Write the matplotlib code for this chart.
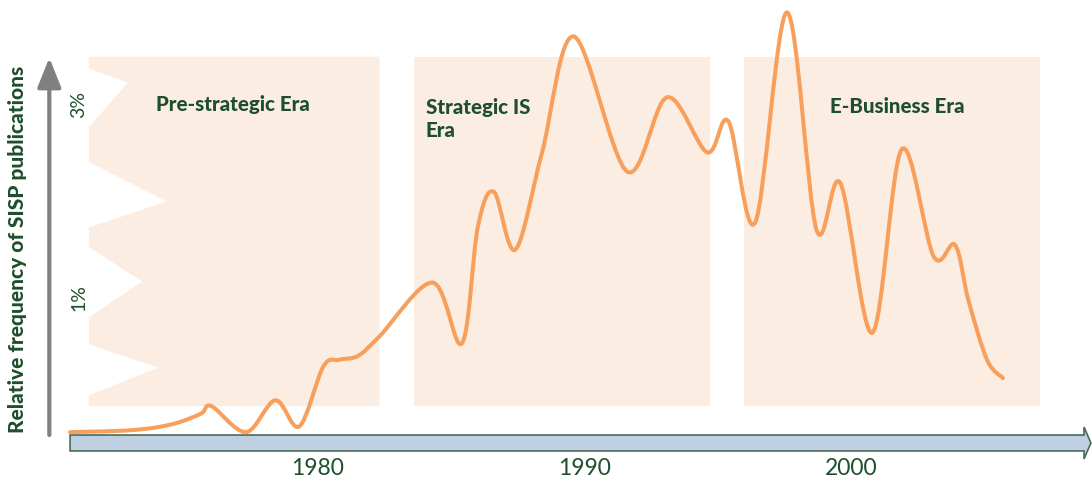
import numpy as np
import matplotlib.pyplot as plt
from matplotlib.path import Path
from matplotlib.patches import PathPatch, Polygon, Rectangle

# curve (year, % of publications)
years = [1970.7, 1973.0, 1974.5, 1975.6, 1976.0, 1977.3, 1978.4, 1979.3,
         1980.2, 1980.8, 1981.5, 1982.3, 1984.3, 1985.4, 1986.0, 1986.6,
         1987.4, 1988.4, 1989.6, 1991.6, 1993.1, 1994.6, 1995.4,
         1996.4, 1997.6, 1998.7, 1999.6, 2000.8, 2001.9, 2003.1, 2003.9,
         2004.4, 2005.1, 2005.7]
freq = [-0.39, -0.37, -0.31, -0.20, -0.12, -0.39, -0.06, -0.33,
        0.29, 0.36, 0.40, 0.60, 1.16, 0.53, 1.74, 2.10,
        1.50, 2.50, 3.71, 2.31, 3.08, 2.51, 2.83,
        1.78, 3.96, 1.71, 2.19, 0.64, 2.54, 1.43, 1.55,
        0.98, 0.36, 0.17]

eras = ['Pre-strategic Era', 'Strategic IS\nEra', 'E-Business Era']
era_start = [1971.4, 1983.6, 1996.0]
era_end = [1982.3, 1994.7, 2007.1]

x_ticks = [1980, 1990, 2000]
y_ticks = [1, 3]

orange = '#F79F5B'
peach = '#FCEDE3'
green = '#1E4F2C'

plt.rcParams['font.family'] = ['Lato', 'DejaVu Sans']

fig = plt.figure(figsize=(10.92, 4.88), dpi=100)
ax = fig.add_axes([0, 0, 1, 1])
ax.set_xlim(1968.07, 2009.04)
ax.set_ylim(-0.969, 4.088)
ax.axis('off')

# era boxes (first one has a jagged left edge)
top, bot = 3.50, -0.12
x0, x1 = era_start[0], era_end[0]
jag = [(x0, top), (x1, top), (x1, bot), (x0, bot),
       (x0, -0.01), (1974.0, 0.28), (x0, 0.52), (x0, 0.80), (1973.4, 1.17),
       (x0, 1.53), (x0, 1.73), (1974.33, 2.0), (x0, 2.41), (x0, 2.77),
       (1972.87, 3.23), (x0, 3.38)]
ax.add_patch(Polygon(jag, closed=True, facecolor=peach, edgecolor='none'))
for s, e in zip(era_start[1:], era_end[1:]):
    ax.add_patch(Rectangle((s, bot), e - s, top - bot, facecolor=peach, edgecolor='none'))

lab = dict(fontsize=14.8, fontweight='black', color=green)
ax.text((era_start[0] + era_end[0]) / 2 - 0.05, 3.0, eras[0], ha='center', va='center', **lab)
ax.text(1984.05, 2.855, eras[1], ha='left', va='center', linespacing=1.3, **lab)
ax.text(1999.2, 2.98, eras[2], ha='left', va='center', **lab)

# timeline arrow at the bottom
ya, yb, yh1, yh2 = -0.42, -0.585, -0.337, -0.668
xs, xh, xt = 1970.7, 2008.74, 2009.0
ax.add_patch(Polygon([(xs, ya), (xh, ya), (xh, yh1), (xt, (ya + yb) / 2),
                      (xh, yh2), (xh, yb), (xs, yb)], closed=True,
                     facecolor='#BFD0E2', edgecolor='#4A6B5A', lw=1.2))

# vertical arrow
ax.annotate('', xy=(1969.92, 3.49), xytext=(1969.92, -0.42),
            arrowprops=dict(arrowstyle='-|>,head_length=1.8,head_width=0.72',
                            mutation_scale=10, lw=3, color='#808080',
                            shrinkA=0, shrinkB=0))

# smooth curve (Catmull-Rom as cubic beziers)
P = np.column_stack([years, freq])
ext = np.vstack([P[0], P, P[-1]])
verts = [tuple(P[0])]
codes = [Path.MOVETO]
for i in range(1, len(ext) - 2):
    p0, p1, p2, p3 = ext[i - 1], ext[i], ext[i + 1], ext[i + 2]
    c1 = p1 + (p2 - p0) / 6
    c2 = p2 - (p3 - p1) / 6
    verts += [tuple(c1), tuple(c2), tuple(p2)]
    codes += [Path.CURVE4] * 3
ax.add_patch(PathPatch(Path(verts, codes), facecolor='none', edgecolor=orange,
                       lw=2.9, capstyle='round', joinstyle='round'))

for t in x_ticks:
    ax.text(t, -0.772, str(t), ha='center', va='center', fontsize=16.5, color=green)
for t in y_ticks:
    ax.text(1971.03, t, f'{t}%', ha='center', va='center', rotation=90,
            fontsize=14, color=green)

ax.text(1968.72, 1.5, 'Relative frequency of SISP publications', rotation=90,
        ha='center', va='center', fontsize=15, fontweight='black', color=green)

fig.savefig('out.png', dpi=100)
